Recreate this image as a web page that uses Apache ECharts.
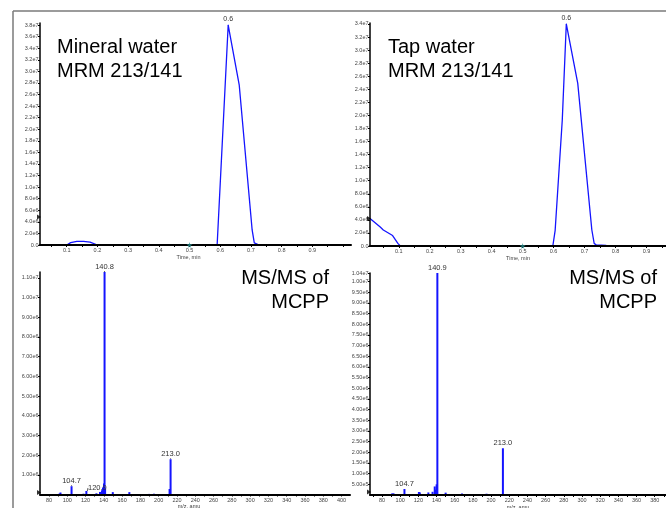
<!DOCTYPE html>
<html><head><meta charset="utf-8">
<script src="https://cdn.jsdelivr.net/npm/echarts@6/dist/echarts.min.js"></script>
<style>html,body{margin:0;padding:0;background:#fff}#c{width:666px;height:508px}</style>
</head><body><div id="c"></div>
<script>
// ---- Top-left: Mineral water, MRM 213/141 (time in min, intensity in cps)
const mineralTime = [0.013, 0.1, 0.113, 0.133, 0.155, 0.176, 0.2, 0.59, 0.626, 0.662, 0.704, 0.711, 0.722, 0.735, 1.026];
const mineralXic  = [0, 0, 4.0e5, 6.4e5, 6.2e5, 4.8e5, 0, 0, 3.8e7, 2.76e7, 2.6e6, 3.5e5, 1.2e5, 0, 0];
// ---- Top-right: Tap water, MRM 213/141
const tapTime = [0.007, 0.04, 0.05, 0.08, 0.097, 0.105, 0.5975, 0.605, 0.628, 0.641, 0.678, 0.7235, 0.731, 0.738, 0.77, 0.775, 0.963];
const tapXic  = [4.2e6, 2.9e6, 2.45e6, 1.6e6, 4.0e5, 0, 0, 2.4e6, 1.93e7, 3.4e7, 2.49e7, 2.45e6, 4.0e5, 1.5e5, 1.0e5, 0, 0];
// ---- Bottom-left: MS/MS of MCPP (mineral water)
const mineralMz  = [91.6, 92.6, 104.7, 117.8, 120.9, 131.9, 135.8, 138.0, 139.1, 140.2, 140.8, 141.4, 149.8, 167.9, 189.5, 194.8, 211.9, 213.0];
const mineralInt = [5e4, 1.0e5, 4.2e5, 4e4, 1.8e5, 6e4, 1.3e5, 2.2e5, 3.6e5, 5.6e5, 1.13e7, 3.0e5, 1.2e5, 1.2e5, 3e4, 4e4, 2.8e5, 1.79e6];
const mineralLabeled = [104.7, 120.9, 140.8, 213.0];
// ---- Bottom-right: MS/MS of MCPP (tap water)
const tapMz  = [91.0, 92.6, 104.7, 120.6, 121.6, 131.0, 135.6, 138.0, 139.2, 140.1, 140.9, 150.0, 168.0, 180.0, 195.0, 213.0];
const tapInt = [7e4, 8e4, 2.8e5, 1.4e5, 1.2e5, 1.2e5, 1.5e5, 4.0e5, 2.5e5, 5.0e5, 1.04e7, 1.1e5, 7e4, 3e4, 6e4, 2.19e6];
const tapLabeled = [104.7, 140.9, 213.0];
// ---- software markers
const markerTime = 0.5;
const axisMarkerLevels = [4.84e6, 4.2e6, 1.0e5, 1.4e5];

// ---- tick labels
const timeLabels = [0.1, 0.2, 0.3, 0.4, 0.5, 0.6, 0.7, 0.8, 0.9];
const timeTicksL = [0.05, 0.1, 0.15, 0.2, 0.25, 0.3, 0.35, 0.4, 0.45, 0.5, 0.55, 0.6, 0.65, 0.7, 0.75, 0.8, 0.85, 0.9, 0.95, 1.0];
const timeTicksR = [0.05, 0.1, 0.15, 0.2, 0.25, 0.3, 0.35, 0.4, 0.45, 0.5, 0.55, 0.6, 0.65, 0.7, 0.75, 0.8, 0.85, 0.9, 0.95];
const mzLabelsL = [80, 100, 120, 140, 160, 180, 200, 220, 240, 260, 280, 300, 320, 340, 360, 380, 400];
const mzLabelsR = [80, 100, 120, 140, 160, 180, 200, 220, 240, 260, 280, 300, 320, 340, 360, 380];
const mzTicksL = [80, 90, 100, 110, 120, 130, 140, 150, 160, 170, 180, 190, 200, 210, 220, 230, 240, 250, 260, 270, 280, 290, 300, 310, 320, 330, 340, 350, 360, 370, 380, 390, 400];
const mzTicksR = [70, 80, 90, 100, 110, 120, 130, 140, 150, 160, 170, 180, 190, 200, 210, 220, 230, 240, 250, 260, 270, 280, 290, 300, 310, 320, 330, 340, 350, 360, 370, 380, 390];
const yLabelsTL = [0, 2e6, 4e6, 6e6, 8e6, 1.0e7, 1.2e7, 1.4e7, 1.6e7, 1.8e7, 2.0e7, 2.2e7, 2.4e7, 2.6e7, 2.8e7, 3.0e7, 3.2e7, 3.4e7, 3.6e7, 3.8e7];
const yLabelsTR = [0, 2e6, 4e6, 6e6, 8e6, 1.0e7, 1.2e7, 1.4e7, 1.6e7, 1.8e7, 2.0e7, 2.2e7, 2.4e7, 2.6e7, 2.8e7, 3.0e7, 3.2e7, 3.4e7];
const yLabelsBL = [1e6, 2e6, 3e6, 4e6, 5e6, 6e6, 7e6, 8e6, 9e6, 1.0e7, 1.1e7];
const yLabelsBR = [5e5, 1.0e6, 1.5e6, 2.0e6, 2.5e6, 3.0e6, 3.5e6, 4.0e6, 4.5e6, 5.0e6, 5.5e6, 6.0e6, 6.5e6, 7.0e6, 7.5e6, 8.0e6, 8.5e6, 9.0e6, 9.5e6, 1.0e7, 1.04e7];

const FONT = '"Liberation Sans", Arial, sans-serif';
const BLUE = '#1414ff';
const tickColor = '#444';

function expFmt(d) { return v => v === 0 ? '0.0' : v.toExponential(d).replace('e+', 'e'); }

function xAxis(gi, min, max, labels, ticks, fmt, name, nameGap, namePad) {
  return {
    type: 'value', gridIndex: gi, min: min, max: max, z: 5,
    axisLine: { show: true, onZero: false, lineStyle: { color: '#000', width: 2 } },
    axisTick: { show: true, customValues: ticks, length: 2, lineStyle: { color: '#000', width: 1 } },
    axisLabel: { customValues: labels, fontSize: 5.5, color: tickColor, margin: 2.5, fontFamily: FONT, formatter: fmt },
    splitLine: { show: false },
    name: name, nameLocation: 'middle', nameGap: nameGap,
    nameTextStyle: { fontSize: 5.5, color: tickColor, fontFamily: FONT, padding: namePad }
  };
}
function yAxis(gi, max, labels, fmt) {
  return {
    type: 'value', gridIndex: gi, min: 0, max: max, z: 5,
    axisLine: { show: true, lineStyle: { color: '#000', width: 1.5 } },
    axisTick: { show: true, customValues: labels, length: 2, lineStyle: { color: '#000', width: 1 } },
    axisLabel: { customValues: labels, fontSize: 5.5, color: tickColor, margin: 1.5, fontFamily: FONT, formatter: fmt },
    splitLine: { show: false }
  };
}

function curveData(xs, ys) {
  let peak = 0;
  ys.forEach((v, i) => { if (v > ys[peak]) peak = i; });
  return xs.map((x, i) => i === peak ? {
    value: [x, ys[i]], symbol: 'circle', symbolSize: 1,
    label: { show: true, position: 'top', distance: 2, fontSize: 7, color: '#333', fontFamily: FONT,
             formatter: p => p.value[0].toFixed(1) }
  } : [x, ys[i]]);
}
function spectrumData(xs, ys, labeled) {
  return xs.map((x, i) => labeled.indexOf(x) >= 0 ? {
    value: [x, ys[i]],
    label: { show: true, position: 'top', distance: 1, fontSize: 7.5, color: '#333', fontFamily: FONT,
             formatter: p => p.value[0].toFixed(1) }
  } : [x, ys[i]]);
}

const star = 'path://M50,0 L61,35 L98,35 L68,57 L79,91 L50,70 L21,91 L32,57 L2,35 L39,35 Z';

const option = {
  animation: false,
  backgroundColor: '#fff',
  grid: [
    { left: 40, top: 23, width: 311, height: 222, outerBoundsMode: 'none', containLabel: false },
    { left: 370, top: 23, width: 296, height: 223, outerBoundsMode: 'none', containLabel: false },
    { left: 40, top: 272, width: 310, height: 222.5, outerBoundsMode: 'none', containLabel: false },
    { left: 370, top: 273, width: 296, height: 222, outerBoundsMode: 'none', containLabel: false }
  ],
  xAxis: [
    xAxis(0, 0.013, 1.026, timeLabels, timeTicksL, v => v.toFixed(1), 'Time, min', 8, [0, 14, 0, 0]),
    xAxis(1, 0.007, 0.963, timeLabels, timeTicksR, v => v.toFixed(1), 'Time, min', 8, [0, 0, 0, 0]),
    xAxis(2, 70.2, 409.2, mzLabelsL, mzTicksL, v => String(v), 'm/z, amu', 8.5, [0, 12, 0, 0]),
    xAxis(3, 66.8, 392.4, mzLabelsR, mzTicksR, v => String(v), 'm/z, amu', 8.5, [0, 0, 0, 0])
  ],
  yAxis: [
    yAxis(0, 3.835e7, yLabelsTL, expFmt(1)),
    yAxis(1, 3.415e7, yLabelsTR, expFmt(1)),
    yAxis(2, 1.13e7, yLabelsBL, expFmt(2)),
    yAxis(3, 1.04e7, yLabelsBR, expFmt(2))
  ],
  series: [
    { type: 'line', xAxisIndex: 0, yAxisIndex: 0, symbol: 'none', showSymbol: true, z: 3,
      lineStyle: { color: BLUE, width: 1.3 }, itemStyle: { color: BLUE },
      data: curveData(mineralTime, mineralXic) },
    { type: 'line', xAxisIndex: 1, yAxisIndex: 1, symbol: 'none', showSymbol: true, z: 3,
      lineStyle: { color: BLUE, width: 1.3 }, itemStyle: { color: BLUE },
      data: curveData(tapTime, tapXic) },
    { type: 'bar', xAxisIndex: 2, yAxisIndex: 2, barWidth: 2, z: 3,
      itemStyle: { color: BLUE },
      labelLine: { show: true, lineStyle: { color: '#333', width: 0.8 } },
      labelLayout: p => (Math.abs(mineralMz[p.dataIndex] - 120.9) < 1e-6 ? { dx: 11, dy: 2 } : {}),
      data: spectrumData(mineralMz, mineralInt, mineralLabeled) },
    { type: 'bar', xAxisIndex: 3, yAxisIndex: 3, barWidth: 2, z: 3,
      itemStyle: { color: BLUE },
      data: spectrumData(tapMz, tapInt, tapLabeled) },
    { type: 'scatter', xAxisIndex: 0, yAxisIndex: 0, symbol: star, symbolSize: 6, clip: false, z: 6,
      itemStyle: { color: '#2b9090' }, data: [[markerTime, 0]] },
    { type: 'scatter', xAxisIndex: 1, yAxisIndex: 1, symbol: star, symbolSize: 6, clip: false, z: 6,
      itemStyle: { color: '#2b9090' }, data: [[markerTime, 0]] },
    { type: 'scatter', xAxisIndex: 0, yAxisIndex: 0, symbol: 'triangle', symbolRotate: -90, symbolSize: [5, 4], symbolOffset: [-1, 0], clip: false, z: 6,
      itemStyle: { color: '#000' }, data: [[0.013, axisMarkerLevels[0]]] },
    { type: 'scatter', xAxisIndex: 1, yAxisIndex: 1, symbol: 'triangle', symbolRotate: -90, symbolSize: [5, 4], symbolOffset: [-1, 0], clip: false, z: 6,
      itemStyle: { color: '#000' }, data: [[0.007, axisMarkerLevels[1]]] },
    { type: 'scatter', xAxisIndex: 2, yAxisIndex: 2, symbol: 'triangle', symbolRotate: -90, symbolSize: [5, 4], symbolOffset: [-1, 0], clip: false, z: 6,
      itemStyle: { color: '#000' }, data: [[70.2, axisMarkerLevels[2]]] },
    { type: 'scatter', xAxisIndex: 3, yAxisIndex: 3, symbol: 'triangle', symbolRotate: -90, symbolSize: [5, 4], symbolOffset: [-1, 0], clip: false, z: 6,
      itemStyle: { color: '#000' }, data: [[66.8, axisMarkerLevels[3]]] }
  ],
  graphic: [
    { type: 'line', shape: { x1: 13, y1: 11, x2: 666, y2: 11 }, style: { stroke: '#7a7a7a', lineWidth: 1.5 }, silent: true },
    { type: 'line', shape: { x1: 13, y1: 11, x2: 13, y2: 508 }, style: { stroke: '#7a7a7a', lineWidth: 1.5 }, silent: true },
    { type: 'text', x: 57, y: 47, style: { text: 'Mineral water', font: '20px ' + FONT, fill: '#000', verticalAlign: 'middle' } },
    { type: 'text', x: 57, y: 71.5, style: { text: 'MRM 213/141', font: '20px ' + FONT, fill: '#000', verticalAlign: 'middle' } },
    { type: 'text', x: 388, y: 47, style: { text: 'Tap water', font: '20px ' + FONT, fill: '#000', verticalAlign: 'middle' } },
    { type: 'text', x: 388, y: 71.5, style: { text: 'MRM 213/141', font: '20px ' + FONT, fill: '#000', verticalAlign: 'middle' } },
    { type: 'text', x: 329, y: 278, style: { text: 'MS/MS of', font: '20px ' + FONT, fill: '#000', align: 'right', verticalAlign: 'middle' } },
    { type: 'text', x: 329, y: 302, style: { text: 'MCPP', font: '20px ' + FONT, fill: '#000', align: 'right', verticalAlign: 'middle' } },
    { type: 'text', x: 657, y: 278, style: { text: 'MS/MS of', font: '20px ' + FONT, fill: '#000', align: 'right', verticalAlign: 'middle' } },
    { type: 'text', x: 657, y: 302, style: { text: 'MCPP', font: '20px ' + FONT, fill: '#000', align: 'right', verticalAlign: 'middle' } }
  ]
};

const chart = echarts.init(document.getElementById('c'), null, { renderer: 'canvas' });
chart.setOption(option);
</script>
</body></html>
